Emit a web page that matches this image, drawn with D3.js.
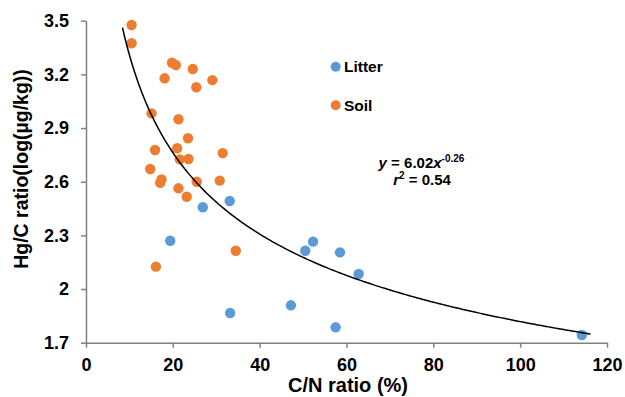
<!DOCTYPE html>
<html>
<head>
<meta charset="utf-8">
<script src="https://cdn.jsdelivr.net/npm/d3@7"></script>
<style>
  html, body { margin: 0; padding: 0; background: #fff; }
  svg { display: block; font-family: "Liberation Sans", Arial, sans-serif; font-weight: bold; }
</style>
</head>
<body>
<svg id="chart" width="625" height="397"></svg>
<script>
// ---- data ----
const litterCN = [26.9, 33.1, 19.4, 50.5, 52.3, 58.5, 62.8, 47.2, 33.2, 57.5, 114.2];
const litterHgC = [2.457, 2.492, 2.270, 2.214, 2.265, 2.205, 2.084, 1.909, 1.866, 1.786, 1.743];

const soilCN = [10.5, 10.5, 19.8, 20.7, 24.6, 18.1, 29.1, 25.4, 15.1, 21.3, 23.5, 15.9, 21.0, 31.5, 21.6, 23.6, 14.8, 17.4, 17.1, 25.5, 30.8, 21.3, 23.2, 34.5, 16.1];
const soilHgC = [3.476, 3.374, 3.265, 3.252, 3.230, 3.178, 3.168, 3.128, 2.982, 2.949, 2.843, 2.777, 2.787, 2.760, 2.725, 2.727, 2.671, 2.613, 2.594, 2.600, 2.606, 2.563, 2.516, 2.214, 2.125];

const xTicks = [0, 20, 40, 60, 80, 100, 120];
const yTicks = [1.7, 2.0, 2.3, 2.6, 2.9, 3.2, 3.5];
const yTickLabels = ["1.7", "2", "2.3", "2.6", "2.9", "3.2", "3.5"];

// power-law trend line y = a * x^b, as printed on the chart
const fitA = 6.02;
const fitB = -0.26;
const fitRange = [8.4, 116.2];

const seriesNames = ["Litter", "Soil"];
const seriesColors = ["#5B9BD5", "#ED7D31"];

// ---- drawing ----
const svg = d3.select("#chart");
const x = d3.scaleLinear().domain([0, 120]).range([86, 607]);
const y = d3.scaleLinear().domain([1.7, 3.5]).range([342.7, 20.7]);
const axisColor = "#808080";

const xAxis = svg.append("g")
  .attr("transform", `translate(0,${y(1.7)})`)
  .call(d3.axisBottom(x).tickValues(xTicks).tickSize(5).tickSizeOuter(0).tickPadding(11));
const yAxis = svg.append("g")
  .attr("transform", `translate(${x(0)},0)`)
  .call(d3.axisLeft(y).tickValues(yTicks).tickFormat((d, i) => yTickLabels[i]).tickSize(5).tickSizeOuter(0).tickPadding(12));

[xAxis, yAxis].forEach(g => {
  g.select(".domain").attr("stroke", axisColor).attr("stroke-width", 1.5);
  g.selectAll(".tick line").attr("stroke", axisColor).attr("stroke-width", 1.5);
  g.selectAll(".tick text").attr("fill", "#000").style("font-size", "18px")
    .style("font-family", "'Liberation Sans', Arial, sans-serif").style("font-weight", "bold");
});

// points
const litter = litterCN.map((v, i) => [v, litterHgC[i]]);
const soil = soilCN.map((v, i) => [v, soilHgC[i]]);

svg.append("g").selectAll("circle").data(litter).join("circle")
  .attr("cx", d => x(d[0])).attr("cy", d => y(d[1])).attr("r", 5.2)
  .attr("fill", seriesColors[0]);
svg.append("g").selectAll("circle").data(soil).join("circle")
  .attr("cx", d => x(d[0])).attr("cy", d => y(d[1])).attr("r", 5.2)
  .attr("fill", seriesColors[1]);

// trend line
const fitX = d3.range(0, 201).map(i => fitRange[0] + (fitRange[1] - fitRange[0]) * i / 200);
const line = d3.line().x(d => x(d)).y(d => y(fitA * Math.pow(d, fitB)));
svg.append("path").datum(fitX).attr("d", line)
  .attr("fill", "none").attr("stroke", "#000").attr("stroke-width", 1.5);

// axis titles
svg.append("text").attr("x", 348).attr("y", 392).attr("text-anchor", "middle")
  .style("font-size", "20px").text("C/N ratio (%)");
svg.append("text").attr("transform", "translate(28,169) rotate(-90)").attr("text-anchor", "middle")
  .style("font-size", "19.5px").text("Hg/C ratio(log(µg/kg))");

// legend
const legend = svg.append("g");
seriesNames.forEach((n, i) => {
  const cy = 66.7 + i * 38.6;
  legend.append("circle").attr("cx", 335.7).attr("cy", cy).attr("r", 5).attr("fill", seriesColors[i]);
  legend.append("text").attr("x", 344).attr("y", cy + 5.3).style("font-size", "15.5px").text(n);
});

// equation
const eq = svg.append("text").attr("x", 421.5).attr("y", 167.5).attr("text-anchor", "middle").style("font-size", "15px");
eq.append("tspan").style("font-style", "italic").text("y");
eq.append("tspan").text(" = " + fitA.toFixed(2));
eq.append("tspan").style("font-style", "italic").text("x");
eq.append("tspan").attr("dy", -6).style("font-size", "10px").text(fitB.toFixed(2).replace("-", "-"));
const r2 = svg.append("text").attr("x", 422).attr("y", 185).attr("text-anchor", "middle").style("font-size", "15px");
r2.append("tspan").style("font-style", "italic").text("r");
r2.append("tspan").attr("dy", -6).style("font-size", "10px").text("2");
r2.append("tspan").attr("dy", 6).text(" = 0.54");
</script>
</body>
</html>
